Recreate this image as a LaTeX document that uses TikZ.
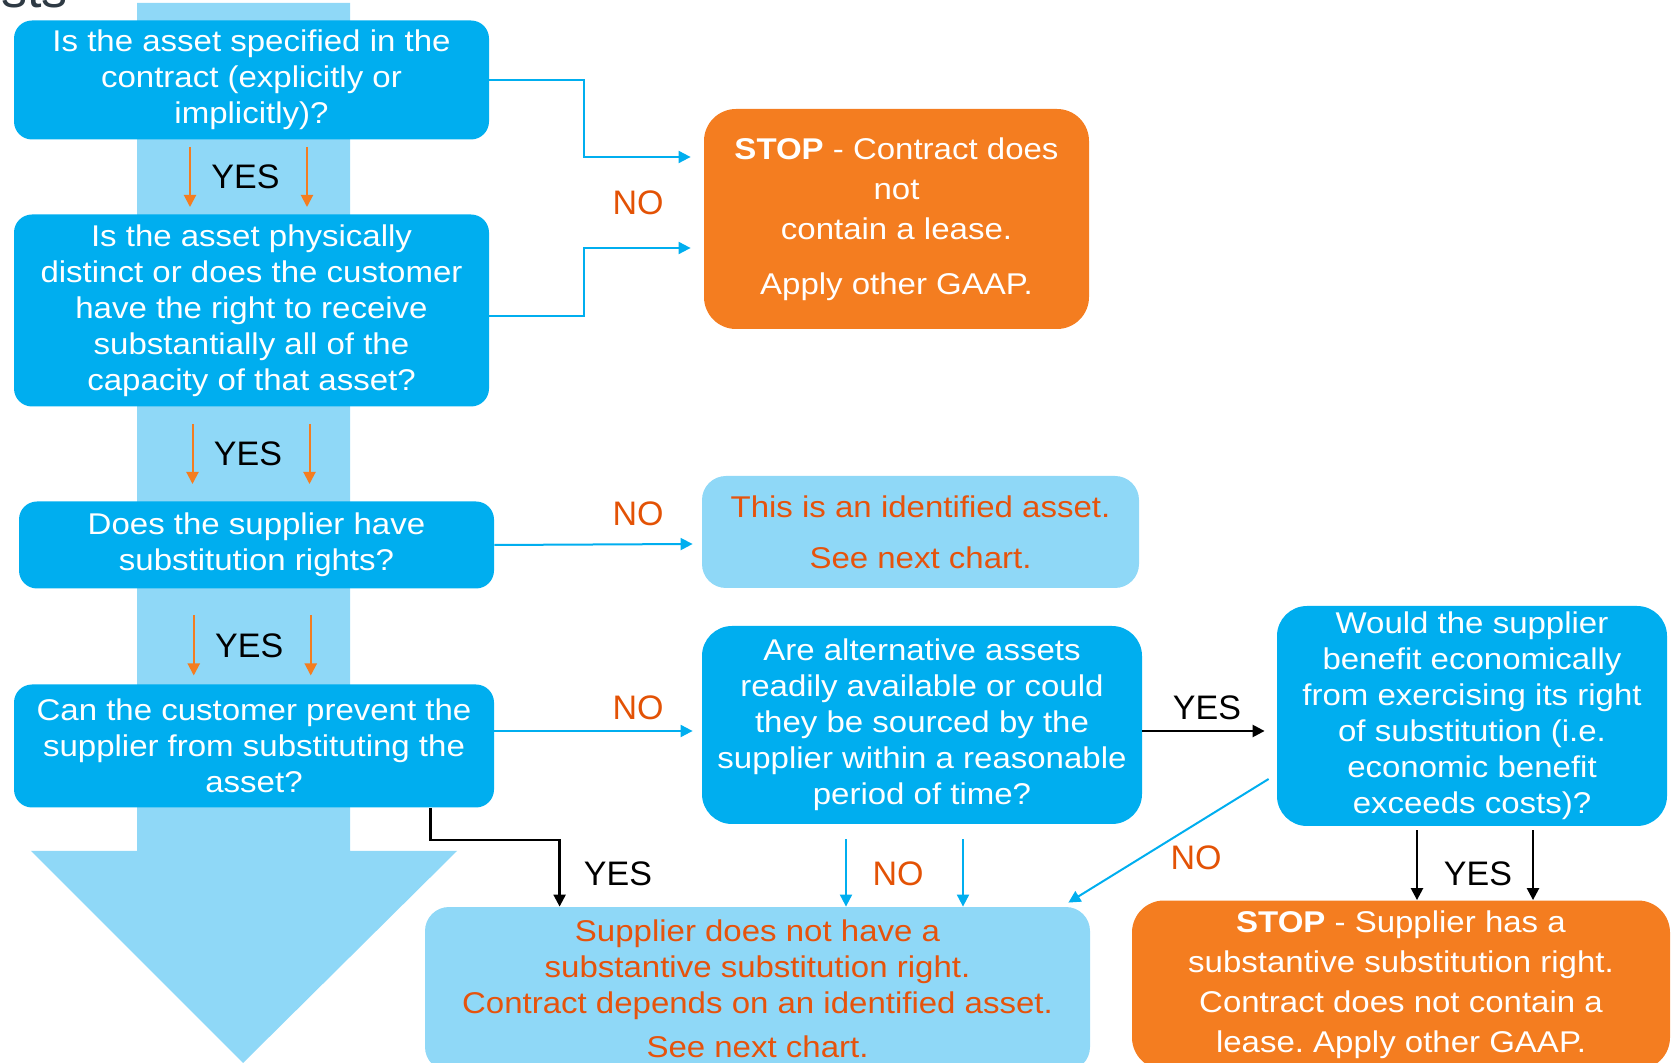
\documentclass[tikz,border=0pt]{standalone}
\usepackage{fontspec}
\setmainfont{Liberation Sans}
\newfontfamily\boxfont[FakeStretch=1.1]{Liberation Sans}
\usetikzlibrary{arrows.meta, positioning, calc}
\definecolor{qblue}{HTML}{00AEEF}
\definecolor{lblue}{HTML}{8FD8F7}
\definecolor{stoporange}{HTML}{F47D20}
\definecolor{nored}{HTML}{E35205}
\definecolor{infotext}{HTML}{E6530C}
\definecolor{titlegray}{HTML}{2E3A44}
\frenchspacing
\tikzset{
  qbox/.style={fill=qblue, text=white, rounded corners=9pt, align=center, inner sep=0pt,
    font=\boxfont\fontsize{15}{18}\selectfont},
  stopbox/.style={fill=stoporange, text=white, rounded corners=16pt, align=center, inner sep=0pt,
    font=\boxfont\fontsize{15}{20}\selectfont},
  infobox/.style={fill=lblue, text=infotext, rounded corners=12pt, align=center, inner sep=0pt,
    font=\boxfont\fontsize{15}{18}\selectfont},
  bluearr/.style={draw=qblue, line width=1pt, -{Triangle[length=6pt,width=6pt]}},
  blackarr/.style={draw=black, line width=1.2pt, -{Triangle[length=6pt,width=6pt]}},
  orarr/.style={draw=stoporange, line width=1pt, -{Triangle[length=6pt,width=6pt]}},
  yeslbl/.style={font=\fontsize{17}{17}\selectfont, text=black, inner sep=0pt},
  nolbl/.style={font=\fontsize{17}{17}\selectfont, text=nored, inner sep=0pt},
}

\begin{document}
\begin{tikzpicture}[x=0.5pt, y=-0.5pt]
  \useasboundingbox (0,0) rectangle (1672,1063);
  % big background arrow
  \fill[lblue] (137,3) -- (350,3) -- (350,851) -- (457,851) -- (243,1063)
    -- (31,851) -- (137,851) -- cycle;
  \node[anchor=base east, text=titlegray, font=\fontsize{26}{26}\selectfont, inner sep=0pt]
    (title) at (68,8) {sts};

  % left column of questions
  \node[qbox, minimum width=237.5pt, minimum height=59.5pt] (q1) at (251.5,80)
    {Is the asset specified in the\\contract (explicitly or\\implicitly)?};
  \node[qbox, minimum width=237.5pt, minimum height=96pt] (q2) at (251.5,310.5)
    {Is the asset physically\\distinct or does the customer\\have the right to receive\\substantially all of the\\capacity of that asset?};
  \node[qbox, minimum width=237.5pt, minimum height=43.5pt] (q3) at (256.5,545)
    {Does the supplier have\\substitution rights?};
  \node[qbox, minimum width=240pt, minimum height=61.5pt] (q4) at (254,746)
    {Can the customer prevent the\\supplier from substituting the\\asset?};

  % outcomes and further questions
  \node[stopbox, minimum width=192.5pt, minimum height=110pt] (stop1) at (896.5,219)
    {\textbf{STOP} - Contract does\\not\\contain a lease.\\[7.5pt]Apply other GAAP.};
  \node[infobox, minimum width=218.5pt, minimum height=56pt] (info1) at (920.5,532)
    {This is an identified asset.\\[7.5pt]See next chart.};
  \node[qbox, rounded corners=15pt, minimum width=220pt, minimum height=99pt] (q5) at (922,725)
    {Are alternative assets\\readily available or could\\they be sourced by the\\supplier within a reasonable\\period of time?};
  \node[qbox, rounded corners=15pt, minimum width=195pt, minimum height=110pt] (q6) at (1472,716)
    {Would the supplier\\benefit economically\\from exercising its right\\of substitution (i.e.\\economic benefit\\exceeds costs)?};
  \node[infobox, minimum width=332.5pt, minimum height=82pt] (info2) at (757.5,989)
    {Supplier does not have a\\substantive substitution right.\\Contract depends on an identified asset.\\[4pt]See next chart.};
  \node[stopbox, minimum width=269pt, minimum height=84.5pt] (stop2) at (1401,985)
    {\textbf{STOP} - Supplier has a\\substantive substitution right.\\Contract does not contain a\\lease. Apply other GAAP.};

  % YES arrows down the column
  \foreach \a/\b/\dy [count=\i] in {q1/q2/0pt,q2/q3/0pt,q3/q4/-4.5pt}{
    \coordinate (yes\i) at ($(\a.south)!.5!(\b.north)$);
    \draw[orarr] ([xshift=-30.75pt,yshift=15pt+\dy]yes\i) -- ([xshift=-30.75pt,yshift=-15pt+\dy]yes\i);
    \draw[orarr] ([xshift=27.75pt,yshift=15pt+\dy]yes\i) -- ([xshift=27.75pt,yshift=-15pt+\dy]yes\i);
    \node[yeslbl] at ([xshift=-3pt,yshift=\dy]yes\i) {YES};
  }

  % NO branches
  \draw[bluearr] (q1.east) -- ++(95,0) |- ([xshift=-6.5pt,yshift=31pt]stop1.west);
  \draw[bluearr] ([yshift=-3pt]q2.east) -- ++(95,0) |- ([xshift=-6.5pt,yshift=-14.5pt]stop1.west);
  \node[nolbl] at (638,203) {NO};
  \draw[bluearr] (q3.east) -- ([xshift=-4.5pt,yshift=-6pt]info1.west);
  \node[nolbl] at (638,514) {NO};
  \draw[bluearr] ([yshift=7.5pt]q4.east) -- ([xshift=-4.5pt,yshift=-3pt]q5.west);
  \node[nolbl] at (638,708) {NO};
  \draw[blackarr] ([yshift=-3pt]q5.east) -- ([xshift=-6pt,yshift=-7.5pt]q6.west);
  \node[yeslbl] at (1207,708) {YES};
  \draw[bluearr] ([xshift=-4pt,yshift=-31.5pt]q6.west) -- ([xshift=-11pt,yshift=2pt]info2.north east);
  \node[nolbl] at (1196,858) {NO};
  \foreach \dx in {-38pt,20.5pt}
    \draw[bluearr] ([xshift=\dx,yshift=-7.5pt]q5.south) -- ([xshift=\dx]q5.south |- info2.north);
  \node[nolbl] at (898,874) {NO};
  \draw[blackarr] ([xshift=-32pt]q4.south east) -- ++(0,32) -| ([xshift=67.5pt]info2.north west);
  \node[yeslbl] at (618,874) {YES};
  \foreach \dx in {-27.5pt,30.5pt}
    \draw[blackarr] ([xshift=\dx,yshift=-2pt]q6.south) -- ([xshift=\dx]q6.south |- stop2.north);
  \node[yeslbl] at (1478,874) {YES};
\end{tikzpicture}
\end{document}
